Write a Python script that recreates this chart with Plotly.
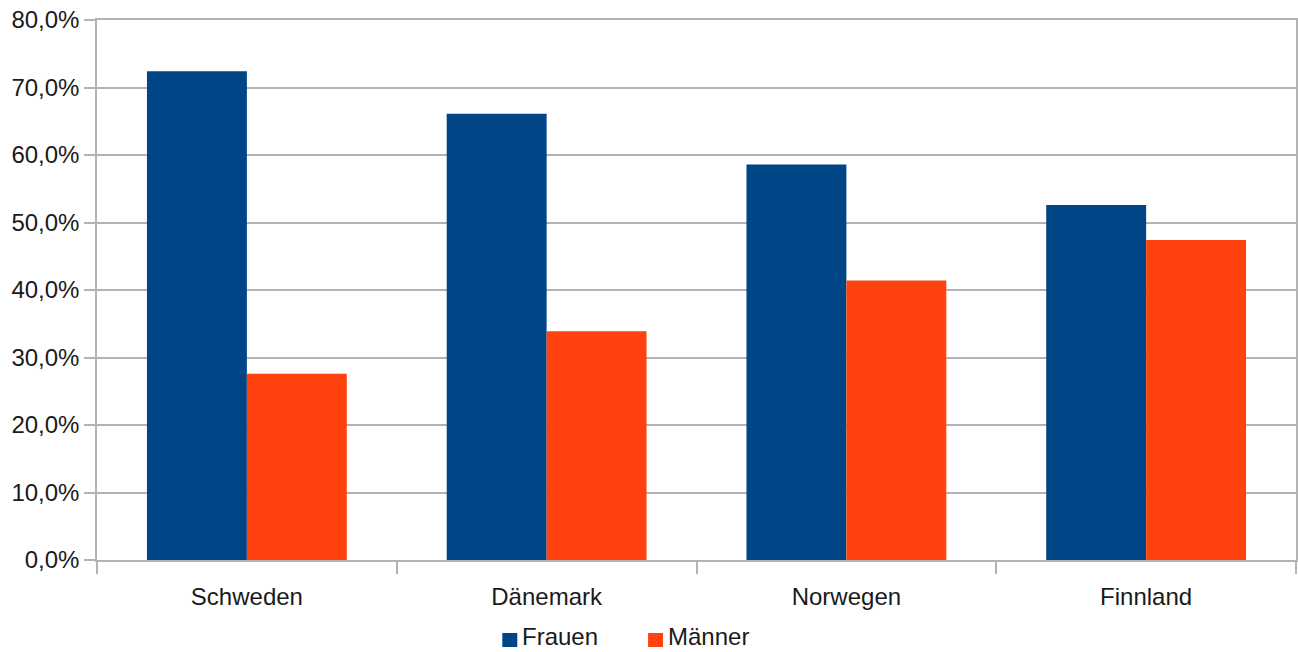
import plotly.graph_objects as go

# Share of women and men (percent) per country
laender = ["Schweden", "Dänemark", "Norwegen", "Finnland"]
frauen = [72.4, 66.1, 58.6, 52.6]
maenner = [27.6, 33.9, 41.4, 47.4]
serien = ["Frauen", "Männer"]
farben = ["#004586", "#ff420e"]

y_ticks = [0, 10, 20, 30, 40, 50, 60, 70, 80]
y_labels = [f"{v:.1f}%".replace(".", ",") for v in y_ticks]

FONT = "Liberation Sans, Arial, sans-serif"
TEXT = "#1a1a1a"
GRID = "#b3b3b3"
FS = 24

fig = go.Figure()
for name, vals, col in zip(serien, [frauen, maenner], farben):
    fig.add_trace(go.Bar(
        x=laender, y=vals, name=name,
        marker=dict(color=col, line=dict(width=0)),
        showlegend=False,
    ))

fig.update_layout(
    width=1298, height=652,
    margin=dict(l=97, r=0, t=20, b=92),
    paper_bgcolor="white", plot_bgcolor="white",
    barmode="group", bargap=1/3, bargroupgap=0,
    font=dict(family=FONT, size=FS, color=TEXT),
)

fig.update_yaxes(
    range=[0, 80], tickvals=y_ticks, ticktext=y_labels,
    showgrid=True, gridcolor=GRID, gridwidth=1.5,
    showline=True, linecolor=GRID, linewidth=1.5, mirror=True,
    ticks="outside", ticklen=11, tickcolor=GRID, tickwidth=1.5,
    zeroline=False, tickfont=dict(size=FS, color=TEXT),
)
fig.update_xaxes(
    showline=True, linecolor=GRID, linewidth=1.5, mirror=True,
    ticks="outside", tickson="boundaries", ticklen=12, tickcolor=GRID, tickwidth=1.5,
    ticklabelstandoff=14,
    showgrid=False, tickfont=dict(size=FS, color=TEXT),
)

# Legend drawn as coloured squares plus labels below the plot
W, H = 1201, 540
leg_x = [503, 649]
for name, col, x0 in zip(serien, farben, leg_x):
    fig.add_shape(type="rect", xref="paper", yref="paper",
                  x0=(x0 - 97) / W, x1=(x0 + 15 - 97) / W,
                  y0=-(633 - 560) / H, y1=-(647 - 560) / H,
                  fillcolor=col, line=dict(width=0))
    fig.add_annotation(text=name, xref="paper", yref="paper",
                       x=(x0 + 19 - 97) / W, y=-(651 - 560) / H,
                       xanchor="left", yanchor="bottom", showarrow=False,
                       borderpad=0,
                       font=dict(family=FONT, size=FS, color=TEXT))

fig.write_html("out.html")
